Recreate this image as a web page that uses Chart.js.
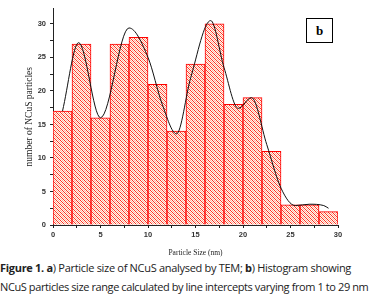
<!DOCTYPE html>
<html>
<head>
<meta charset="utf-8">
<script src="https://cdn.jsdelivr.net/npm/chart.js@4/dist/chart.umd.min.js"></script>
<style>
  body { margin: 0; background: #fff; width: 377px; height: 301px; overflow: hidden; }
  #wrap { position: relative; width: 377px; height: 258px; }
  #badge { position: absolute; left: 306px; top: 18px; width: 25px; height: 23px; border: 1px solid #000;
    font: bold 13px "Liberation Serif", serif; text-align: center; line-height: 23px; background: #fff; }
  #caption { position: absolute; left: 0; top: 258px; width: 377px; font: 11px "Open Sans", sans-serif;
    color: #222; line-height: 19px; white-space: nowrap; letter-spacing: -0.3px; }
  #caption .l2 { letter-spacing: -0.4px; }
</style>
</head>
<body>
<div id="wrap"><canvas id="histChart" width="377" height="258"></canvas><div id="badge">b</div></div>
<div id="caption"><b>Figure 1. a</b>) Particle size of NCuS analysed by TEM; <b>b</b>) Histogram showing<br><span class="l2">NCuS particles size range calculated by line intercepts varying from 1 to 29 nm</span></div>
<script>
// histogram bins (bin centres, nm) and counts
const binCenters = [1, 3, 5, 7, 9, 11, 13, 15, 17, 19, 21, 23, 25, 27, 29];
const counts = [17, 27, 16, 27, 28, 21, 14, 24, 30, 18, 19, 11, 3, 3, 2];

// fitted curve
const fitX = [1, 2.7, 5, 8, 10, 11.5, 13, 14.5, 16.6, 18, 19.5, 20.9, 22.5, 24, 25.5, 27, 28.5, 29];
const fitY = [17, 27.2, 16, 29.4, 25, 18, 13.6, 22, 30.5, 23.5, 17.4, 19, 12, 5.5, 2.9, 3.1, 2.9, 2.5];

const xTicks = [0, 5, 10, 15, 20, 25, 30];

// diagonal hatch: red line, salmon line, white between
const makeHatch = () => {
    const p = document.createElement('canvas');
    p.width = 4; p.height = 4;
    const c = p.getContext('2d');
    c.fillStyle = '#fff6f2';
    c.fillRect(0, 0, 4, 4);
    for (let i = 0; i < 4; i++) {
        c.fillStyle = '#ff3322';
        c.fillRect(i, i, 1, 1);
        c.fillStyle = '#ffb29a';
        c.fillRect((i + 2) % 4, i, 1, 1);
    }
    return document.getElementById('histChart').getContext('2d').createPattern(p, 'repeat');
};

const tickFont = { family: 'Arial, "Liberation Sans", sans-serif', size: 7.5, weight: 'bold' };

new Chart(document.getElementById('histChart'), {
    type: 'bar',
    data: {
        datasets: [{
            type: 'line',
            data: fitX.map((x, i) => ({ x: x, y: fitY[i] })),
            borderColor: '#111',
            borderWidth: 1,
            pointRadius: 0,
            cubicInterpolationMode: 'monotone',
            fill: false
        }, {
            data: binCenters.map((x, i) => ({ x: x, y: counts[i] })),
            backgroundColor: makeHatch(),
            borderColor: '#ff0000',
            borderWidth: 1,
            barPercentage: 1,
            categoryPercentage: 1
        }]
    },
    options: {
        responsive: false,
        animation: false,
        layout: { padding: { top: 8, right: 39, left: 0, bottom: 0 } },
        plugins: { legend: { display: false }, tooltip: { enabled: false } },
        scales: {
            x: {
                type: 'linear', min: 0, max: 30, offset: false,
                afterFit: s => { s.height = 33; },
                ticks: {
                    stepSize: 2.5, autoSkip: false, maxRotation: 0, padding: 2,
                    color: '#333', font: tickFont,
                    callback: v => xTicks.includes(v) ? String(v) : ''
                },
                grid: { drawOnChartArea: false, offset: false, tickLength: 3, color: '#222', tickColor: '#222' },
                border: { color: '#222', width: 1 },
                title: { display: true, text: 'Particle Size (nm)', color: '#222',
                    font: { family: '"Liberation Serif", serif', size: 7.5 }, padding: { top: 3, bottom: 0 } }
            },
            y: {
                min: 0, max: 32.3,
                afterFit: s => { s.width = 53; },
                afterBuildTicks: s => { s.ticks = [0, 2.5, 5, 7.5, 10, 12.5, 15, 17.5, 20, 22.5, 25, 27.5, 30].map(v => ({ value: v })); },
                ticks: {
                    color: '#333', font: tickFont, padding: 4,
                    callback: v => v % 5 === 0 ? String(v) : ''
                },
                grid: { drawOnChartArea: false, tickLength: 3, color: '#222', tickColor: '#222' },
                border: { color: '#222', width: 1 },
                title: { display: true, text: 'number of NCuS particles', color: '#222',
                    font: { family: '"Liberation Serif", serif', size: 9.5 }, padding: { top: 24, bottom: 0 } }
            }
        }
    }
});
</script>
</body>
</html>
